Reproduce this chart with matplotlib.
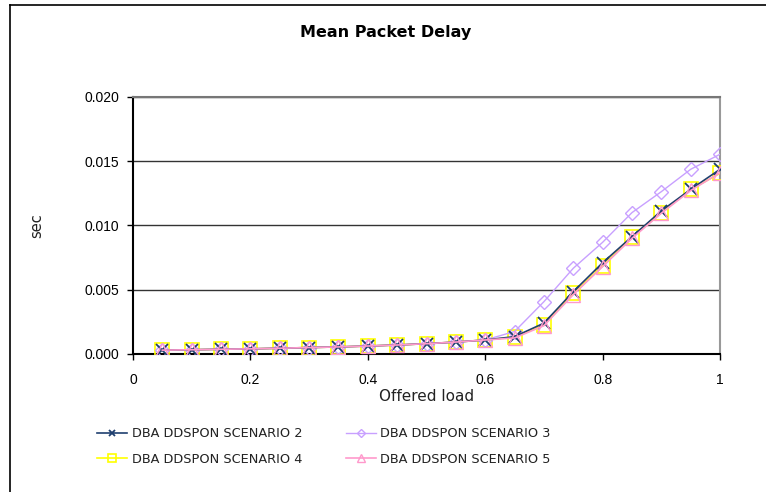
import matplotlib
matplotlib.use("Agg")
import matplotlib.pyplot as plt
from matplotlib.lines import Line2D

loads = [0.05, 0.10, 0.15, 0.20, 0.25, 0.30, 0.35, 0.40, 0.45, 0.50,
         0.55, 0.60, 0.65, 0.70, 0.75, 0.80, 0.85, 0.90, 0.95, 1.00]
low = [0.00030, 0.00033, 0.00037, 0.00040, 0.00045, 0.00050, 0.00055, 0.00062,
       0.00070, 0.00080, 0.00093, 0.00109]
scen2 = low + [0.00135, 0.00240, 0.00485, 0.00710, 0.00913, 0.01113, 0.01281, 0.01437]
scen3 = low + [0.00175, 0.00407, 0.00667, 0.00869, 0.01100, 0.01263, 0.01437, 0.01554]
scen4 = low + [0.00130, 0.00226, 0.00472, 0.00685, 0.00910, 0.01100, 0.01280, 0.01406]
scen5 = low + [0.00125, 0.00220, 0.00462, 0.00680, 0.00900, 0.01095, 0.01272, 0.01410]

labels = ["DBA DDSPON SCENARIO 2", "DBA DDSPON SCENARIO 3",
          "DBA DDSPON SCENARIO 4", "DBA DDSPON SCENARIO 5"]
xticks = [0, 0.2, 0.4, 0.6, 0.8, 1]
xtick_labels = ["0", "0.2", "0.4", "0.6", "0.8", "1"]
yticks = [0.0, 0.005, 0.010, 0.015, 0.020]
ytick_labels = ["0.000", "0.005", "0.010", "0.015", "0.020"]

fig = plt.figure(figsize=(7.66, 4.92), dpi=100)
ax = fig.add_axes([0.1736, 0.2805, 0.940 - 0.1736, 0.803 - 0.2805])

h2, = ax.plot(loads, scen2, color="#1F3F6F", marker="x", ms=9, mew=1.3, lw=1.2, label=labels[0], zorder=5)
h3, = ax.plot(loads, scen3, color="#C8A0FF", marker="D", ms=7, mfc="none", mew=1.0, lw=1.0, label=labels[1], zorder=4)
h4, = ax.plot(loads, scen4, color="#FFFF00", marker="s", ms=10, mfc="none", mew=1.2, lw=1.2, label=labels[2], zorder=3)
h5, = ax.plot(loads, scen5, color="#FF99CC", marker="^", ms=10, mfc="none", mew=1.0, lw=1.2, label=labels[3], zorder=6)

ax.set_xlim(0, 1)
ax.set_ylim(0, 0.020)
ax.set_xticks(xticks)
ax.set_xticklabels(xtick_labels, fontsize=10, family="Liberation Sans")
ax.set_yticks(yticks)
ax.set_yticklabels(ytick_labels, fontsize=10, family="Liberation Sans")
ax.tick_params(axis="y", direction="out", length=4, width=1, pad=6)
ax.tick_params(axis="x", direction="out", length=4, width=1, pad=10)
ax.yaxis.grid(True, color="#333333", lw=1)
ax.set_axisbelow(True)
for s in ["left", "bottom"]:
    ax.spines[s].set_color("black")
    ax.spines[s].set_linewidth(1.5)
ax.spines["right"].set_color("#999999")
ax.spines["right"].set_linewidth(1.5)
ax.spines["top"].set_color("#777777")
ax.spines["top"].set_linewidth(1.5)

ax.set_xlabel("Offered load", fontsize=11, labelpad=1, family="DejaVu Sans", color="#222222")
ax.set_ylabel("sec", fontsize=10.5, labelpad=29, family="DejaVu Sans", color="#222222")
fig.text(0.503, 0.933, "Mean Packet Delay", ha="center", va="center",
         fontsize=11.5, fontweight="bold", family="DejaVu Sans")

leg = fig.legend([h2, h4, h3, h5], [labels[0], labels[2], labels[1], labels[3]],
                 loc="upper left", bbox_to_anchor=(0.112, 0.155),
                 ncol=2, frameon=False, handlelength=2.3, handletextpad=0.35,
                 columnspacing=3.4, labelspacing=0.95, markerscale=0.55,
                 prop={"family": "DejaVu Sans", "size": 9.3})
for t in leg.get_texts():
    t.set_color("#222222")

fig.add_artist(Line2D([0.0137, 0.0137], [0.0, 0.990], transform=fig.transFigure, color="black", lw=1.2))
fig.add_artist(Line2D([0.0137, 1.0], [0.990, 0.990], transform=fig.transFigure, color="black", lw=1.2))

fig.savefig("out.png", dpi=100)
